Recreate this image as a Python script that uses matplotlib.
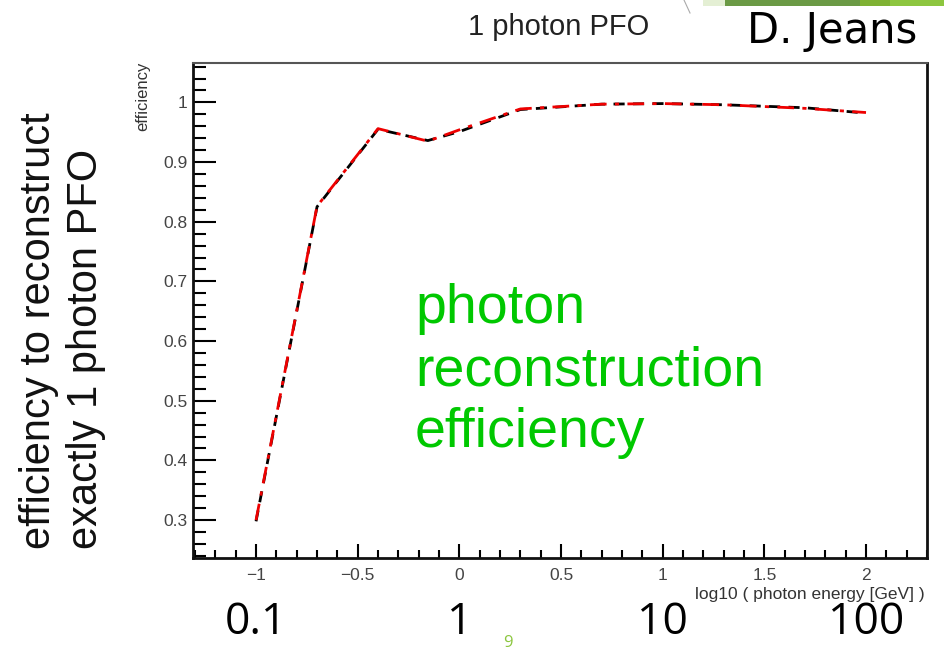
import matplotlib
matplotlib.use("Agg")
import matplotlib.pyplot as plt
from matplotlib.ticker import FixedLocator, MultipleLocator
from matplotlib.patches import Rectangle
from matplotlib.lines import Line2D
import matplotlib.transforms as mtransforms
import math

# ---- data ----
log_energy = [-1.0, -0.7, -0.4, -0.155, 0.0, 0.3, 0.7, 1.0, 1.3, 1.7, 2.0]
eff_black = [0.298, 0.825, 0.955, 0.936, 0.951, 0.988, 0.997, 0.998, 0.996, 0.991, 0.982]
eff_red = [0.300, 0.826, 0.956, 0.935, 0.954, 0.989, 0.997, 0.998, 0.996, 0.990, 0.983]

x_ticks = [-1.0, -0.5, 0.0, 0.5, 1.0, 1.5, 2.0]
x_tick_labels = ["\u22121", "\u22120.5", "0", "0.5", "1", "1.5", "2"]
y_ticks = [0.3, 0.4, 0.5, 0.6, 0.7, 0.8, 0.9, 1.0]
y_tick_labels = ["0.3", "0.4", "0.5", "0.6", "0.7", "0.8", "0.9", "1"]

energy_labels = ["0.1", "1", "10", "100"]
energy_values = [0.1, 1.0, 10.0, 100.0]

title_text = "1 photon PFO"
author_text = "D. Jeans"
small_ylabel = "efficiency"
xlabel_text = "log10 ( photon energy [GeV] )"
big_ylabel_lines = ["efficiency to reconstruct", "exactly 1 photon PFO"]
green_lines = ["photon", "reconstruction", "efficiency"]
page_number = "9"

# ---- figure ----
W, H = 945, 652
fig = plt.figure(figsize=(W / 100, H / 100), dpi=100)
fig.patch.set_facecolor("white")

def fx(px):
    return px / W

def fy(py):
    return 1 - py / H

ax = fig.add_axes([fx(193), fy(558), fx(927) - fx(193), fy(63) - fy(558)])
ax.set_xlim(-1.31, 2.30)
ax.set_ylim(0.2365, 1.066)

ax.plot(log_energy, eff_black, color="black", lw=2.0, dashes=(4, 3), zorder=3)
ax.plot(log_energy, eff_red, color="#ee0000", lw=2.0, dashes=(6, 3, 1.5, 3), zorder=4)

ax.xaxis.set_major_locator(FixedLocator(x_ticks))
ax.set_xticklabels(x_tick_labels)
ax.xaxis.set_minor_locator(MultipleLocator(0.1))
ax.yaxis.set_major_locator(FixedLocator(y_ticks))
ax.set_yticklabels(y_tick_labels)
ax.yaxis.set_minor_locator(MultipleLocator(0.02))

tick_font = "Liberation Sans"
ax.tick_params(axis="both", which="both", direction="in", top=False, right=False,
               width=1.5, colors="black", labelcolor="#444444")
ax.tick_params(axis="y", which="major", length=16.5, pad=4, labelsize=12.5)
ax.tick_params(axis="y", which="minor", length=9)
ax.tick_params(axis="x", which="major", length=10, pad=7, labelsize=12.5)
ax.tick_params(axis="x", which="minor", length=5.5)
for lab in ax.get_xticklabels() + ax.get_yticklabels():
    lab.set_fontfamily(tick_font)

for side in ["left", "bottom", "right"]:
    ax.spines[side].set_linewidth(2.0)
    ax.spines[side].set_color("#111111")
ax.spines["top"].set_linewidth(1.5)
ax.spines["top"].set_color("#555555")

# small ROOT axis titles
fig.text(fx(143), fy(62), small_ylabel, rotation=90, ha="center", va="top",
         fontsize=12, family=tick_font, color="#333333")
fig.text(fx(925), fy(599), xlabel_text, ha="right", va="baseline",
         fontsize=12.5, family=tick_font, color="#333333")

# title
fig.text(fx(559), fy(35), title_text, ha="center", va="baseline",
         fontsize=21, family=tick_font, color="#222222")

# author
fig.text(fx(747), fy(43), author_text, ha="left", va="baseline",
         fontsize=30, family="DejaVu Sans", color="black")

# big y label (two lines, rotated)
for i, line in enumerate(big_ylabel_lines):
    fig.text(fx(50 + 47 * i), fy(549), line, rotation=90, rotation_mode="anchor",
             ha="left", va="baseline", fontsize=30, family=tick_font, color="#111111")

# green annotation
for i, line in enumerate(green_lines):
    fig.text(fx(415), fy(323 + 62 * i), line, ha="left", va="baseline",
             fontsize=40, family=tick_font, color="#00c800")

# energy labels under axis, at log10 positions
trans = mtransforms.blended_transform_factory(ax.transData, fig.transFigure)
for lab, val in zip(energy_labels, energy_values):
    fig.text(math.log10(val), fy(634), lab, transform=trans, ha="center", va="baseline",
             fontsize=32, family="Open Sans", color="black")

# page number
fig.text(fx(508), fy(647), page_number, ha="center", va="baseline",
         fontsize=12, family="Open Sans", color="#8cc63f")

# slide decoration bar at top right
bar_specs = [(703, 725, "#e4efd4"), (725, 860, "#6b9a45"), (860, 890, "#7fb233"), (890, 945, "#8dc63f")]
for x0, x1, c in bar_specs:
    fig.patches.append(Rectangle((fx(x0), fy(6)), fx(x1) - fx(x0), fy(0) - fy(6),
                                 transform=fig.transFigure, color=c, lw=0, zorder=0))
fig.lines.append(Line2D([fx(684), fx(690)], [fy(0), fy(13)], transform=fig.transFigure,
                        color="#aaaaaa", lw=0.8))

fig.savefig("out.png", dpi=100, facecolor="white")
